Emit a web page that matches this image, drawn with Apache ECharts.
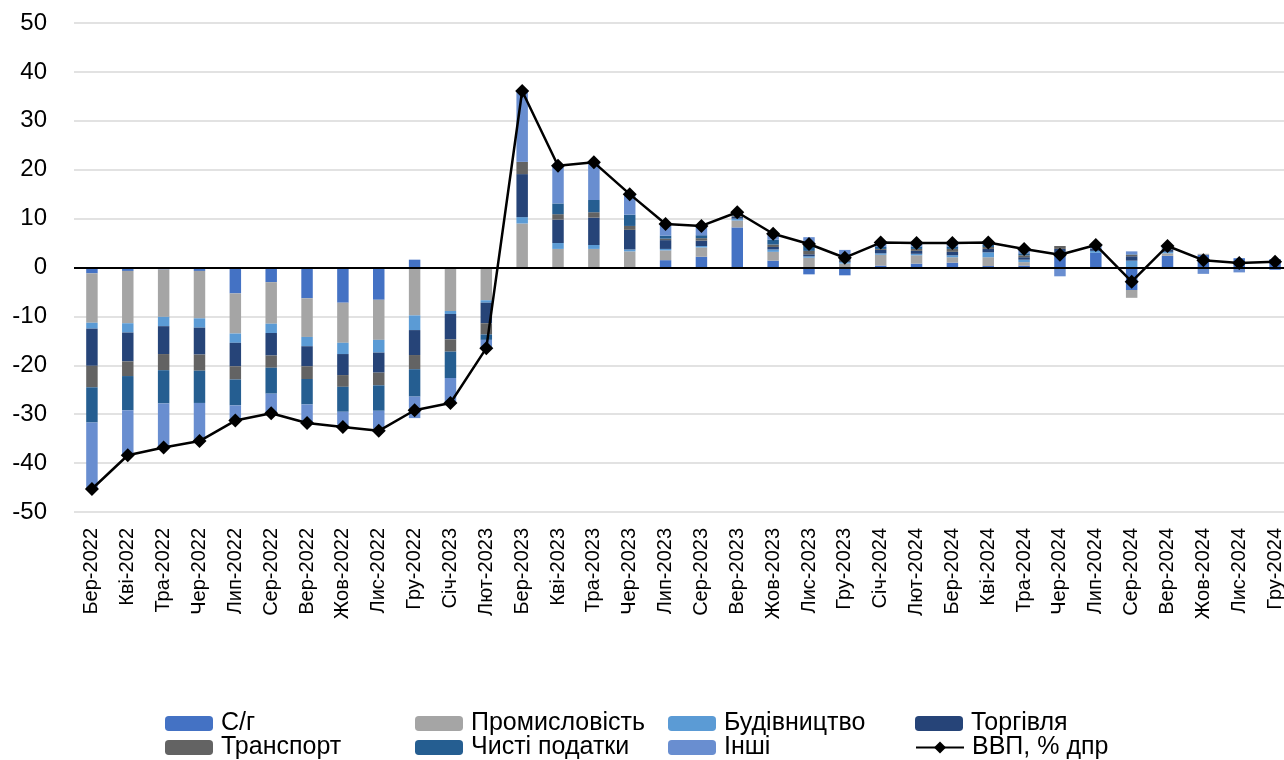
<!DOCTYPE html>
<html>
<head>
<meta charset="utf-8">
<script src="https://cdn.jsdelivr.net/npm/echarts@6/dist/echarts.min.js"></script>
<style>
  html, body { margin: 0; padding: 0; background: #fff; overflow: hidden; }
  /* графік ширший за вікно: останній місяць обрізаний справа, як в оригіналі */
  #chart { width: 1300px; height: 760px; }
</style>
</head>
<body>
<div id="chart"></div>
<script>
// категорії (місяці)
const months = [
  'Бер-2022', 'Кві-2022', 'Тра-2022', 'Чер-2022', 'Лип-2022', 'Сер-2022', 'Вер-2022',
  'Жов-2022', 'Лис-2022', 'Гру-2022', 'Січ-2023', 'Лют-2023', 'Бер-2023', 'Кві-2023',
  'Тра-2023', 'Чер-2023', 'Лип-2023', 'Сер-2023', 'Вер-2023', 'Жов-2023', 'Лис-2023',
  'Гру-2023', 'Січ-2024', 'Лют-2024', 'Бер-2024', 'Кві-2024', 'Тра-2024', 'Чер-2024',
  'Лип-2024', 'Сер-2024', 'Вер-2024', 'Жов-2024', 'Лис-2024', 'Гру-2024'
]

// внески галузей, в.п.
const agro = [-1.2, -0.7, -0.4, -0.7, -5.3, -3.0, -6.3, -7.2, -6.6, 1.6, -0.2, -0.1,
  0, 0, 0, 0, 1.5, 2.2, 8.2, 1.4, -1.4, -1.6, 0.4, 0.8, 1.0, 0.3, 0.4, 2.9,
  3.0, -4.6, 2.4, 2.6, 1.9, 1.7]
const industry = [-10.1, -10.7, -9.7, -9.7, -8.2, -8.5, -7.9, -8.2, -8.2, -9.8, -8.7, -6.6,
  9.0, 3.8, 3.8, 3.3, 2.0, 1.9, 1.4, 1.8, 2.0, 0.8, 2.2, 1.7, 1.1, 1.8, 0.7, 0,
  0, -1.6, 0.5, 0.2, 0, 0]
const construction = [-1.2, -1.9, -1.9, -1.9, -1.9, -1.9, -1.9, -2.3, -2.6, -3.0, -0.6, -0.5,
  1.3, 1.2, 0.8, 0.4, 0.3, 0.3, 0.4, 0.5, 0.3, 0.3, 0.3, 0.3, 0.4, 1.0, 0.5, 0,
  0.4, 1.4, 0.3, 0, 0, 0]
const trade = [-7.6, -5.9, -5.7, -5.5, -4.8, -4.6, -4.1, -4.3, -4.1, -5.1, -5.2, -4.2,
  8.8, 4.8, 5.6, 4.0, 1.8, 1.1, 0.4, 0.5, 0.4, 0.2, 0.7, 0.6, 0.7, 0.7, 0.5, 0.9,
  0.5, 0.9, 0.5, 0, 0, 0]
const transport = [-4.4, -3.0, -3.3, -3.3, -2.7, -2.5, -2.6, -2.4, -2.6, -2.9, -2.5, -2.3,
  2.5, 1.1, 1.1, 0.8, 0.3, 0.5, 0.2, 0.5, 0.7, 0.3, 0.2, 0.4, 0.6, 0.4, 0.4, 0.6,
  0, 0.3, 0.2, 0, 0, 0]
const taxes = [-7.2, -7.0, -6.8, -6.6, -5.3, -5.3, -5.2, -5.1, -5.2, -5.6, -5.4, -1.1,
  0, 2.2, 2.5, 2.3, 0.6, 0.6, 0.2, 1.0, 1.4, 0.5, 0.4, 0.5, 0.5, 0.5, 0.4, 0,
  0, 0.1, 0.2, 0, 0, 0]
const other = [-13.6, -9.2, -9.0, -7.8, -3.1, -4.0, -3.8, -3.1, -4.1, -4.4, -5.1, -1.7,
  14.5, 7.7, 7.7, 4.2, 2.4, 1.9, 0.5, 1.2, 1.4, 1.5, 0.9, 0.7, 0.7, 0.4, 0.9, -1.8,
  0.7, 0.6, 0.3, -1.3, -1.0, -0.5]

// ВВП, % дпр
const gdp = [-45.3, -38.4, -36.8, -35.5, -31.3, -29.8, -31.8, -32.6, -33.4, -29.2, -27.7, -16.5,
  36.1, 20.8, 21.5, 15.0, 8.9, 8.5, 11.3, 6.9, 4.8, 2.0, 5.1, 5.0, 5.0, 5.1, 3.8, 2.6,
  4.6, -2.9, 4.4, 1.5, 0.9, 1.2]

const yTicks = [-50, -40, -30, -20, -10, 0, 10, 20, 30, 40, 50]

const barNames = ['С/г', 'Промисловість', 'Будівництво', 'Торгівля', 'Транспорт', 'Чисті податки', 'Інші']
const barData = [agro, industry, construction, trade, transport, taxes, other]
const barColors = ['#4472C4', '#A5A5A5', '#5B9BD5', '#264478', '#636363', '#255E91', '#698ED0']

const myChart = echarts.init(document.getElementById('chart'))

const fontName = 'Liberation Sans'

// легенда: 2 рядки по 4 елементи
const legendPos = [
  [165, 711], [415, 711], [668, 711], [915, 711],
  [165, 735], [415, 735], [668, 735], [915, 735]
]
const legendNames = barNames.concat(['ВВП, % дпр'])
const legends = legendNames.map(function (name, i) {
  return {
    data: [name],
    left: legendPos[i][0],
    top: legendPos[i][1],
    padding: 0,
    itemWidth: 48,
    itemHeight: 15,
    itemGap: 6,
    textStyle: { fontFamily: fontName, fontSize: 25, color: '#000', padding: [0, 0, 0, 3] }
  }
})

const series = barNames.map(function (name, i) {
  return {
    name: name,
    type: 'bar',
    stack: 'total',
    data: barData[i],
    barWidth: '32%',
    itemStyle: { color: barColors[i] }
  }
})

series.push({
  name: 'ВВП, % дпр',
  type: 'line',
  data: gdp,
  z: 5,
  symbol: 'diamond',
  symbolSize: 14,
  lineStyle: { color: '#000', width: 2.5 },
  itemStyle: { color: '#000' },
  // нульова лінія
  markLine: {
    silent: true,
    symbol: ['none', 'none'],
    label: { show: false },
    lineStyle: { color: '#000', width: 2, type: 'solid' },
    data: [{ yAxis: 0 }]
  }
})

const option = {
  animation: false,
  legend: legends,
  grid: { left: 74, top: 23, width: 1219, height: 489 },
  xAxis: {
    type: 'category',
    data: months,
    axisLine: { show: false, onZero: false },
    axisTick: { show: false },
    axisLabel: {
      rotate: 90,
      interval: 0,
      margin: 16,
      fontFamily: fontName,
      fontSize: 20,
      color: '#000'
    }
  },
  yAxis: {
    type: 'value',
    min: yTicks[0],
    max: yTicks[yTicks.length - 1],
    interval: 10,
    axisLine: { show: false },
    axisTick: { show: false },
    axisLabel: { fontFamily: fontName, fontSize: 24, color: '#000', margin: 27 },
    splitLine: { lineStyle: { color: '#D9D9D9', width: 1.5 } }
  },
  series: series
}

myChart.setOption(option)
</script>
</body>
</html>
